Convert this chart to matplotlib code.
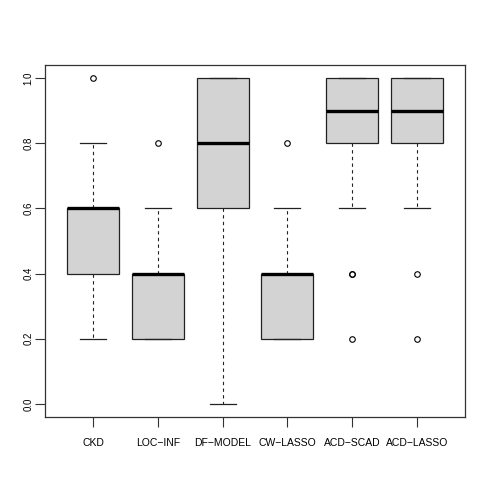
import matplotlib
matplotlib.use("Agg")
import matplotlib.pyplot as plt

plt.rcParams['font.family'] = ['Liberation Sans', 'DejaVu Sans']

categories = ["CKD", "LOC\u2212INF", "DF\u2212MODEL", "CW\u2212LASSO", "ACD\u2212SCAD", "ACD\u2212LASSO"]
medians = [0.6, 0.4, 0.8, 0.4, 0.9, 0.9]
q1 = [0.4, 0.2, 0.6, 0.2, 0.8, 0.8]
q3 = [0.6, 0.4, 1.0, 0.4, 1.0, 1.0]
whislo = [0.2, 0.2, 0.0, 0.2, 0.6, 0.6]
whishi = [0.8, 0.6, 1.0, 0.6, 1.0, 1.0]
fliers = [[1.0], [0.8], [], [0.8], [0.4, 0.4, 0.2], [0.4, 0.2]]
yticks = [0.0, 0.2, 0.4, 0.6, 0.8, 1.0]

W, H = 488, 498
fig = plt.figure(figsize=(W/100, H/100), dpi=100)
ax = fig.add_axes([45/W, (H-417)/H, 420/W, 352/H])

stats = []
for i in range(len(categories)):
    stats.append(dict(med=medians[i], q1=q1[i], q3=q3[i], whislo=whislo[i],
                      whishi=whishi[i], fliers=fliers[i], label=categories[i]))

positions = list(range(1, len(categories)+1))
ax.bxp(stats, positions=positions, widths=0.8, patch_artist=True, showcaps=True,
       boxprops=dict(facecolor='#D3D3D3', edgecolor='#222222', linewidth=0.9),
       medianprops=dict(color='black', linewidth=2.4, solid_capstyle='butt'),
       whiskerprops=dict(color='#222222', linewidth=0.8, linestyle=(0, (3, 3))),
       capprops=dict(color='#222222', linewidth=0.9),
       flierprops=dict(marker='o', markersize=4, markerfacecolor='none',
                       markeredgecolor='black', markeredgewidth=0.8, linestyle='none'),
       capwidths=0.4)

n = len(categories)
lo, hi = 0.5, n + 0.5
ext = (hi - lo) * 0.04
ax.set_xlim(lo - ext, hi + ext)
ax.set_ylim(-0.04, 1.04)
ax.set_xticks(positions)
ax.set_xticklabels(categories, fontsize=7.5)
ax.set_yticks(yticks)
ax.set_yticklabels([f"{v:.1f}" for v in yticks], fontsize=7, rotation=90, va='center')
ax.tick_params(axis='x', direction='out', length=7, width=0.8, color='#333333', pad=8)
ax.tick_params(axis='y', direction='out', length=7, width=0.8, color='#333333', pad=1.5)
for s in ax.spines.values():
    s.set_linewidth(0.9)
    s.set_color('#333333')

fig.savefig("out.png", dpi=100)
